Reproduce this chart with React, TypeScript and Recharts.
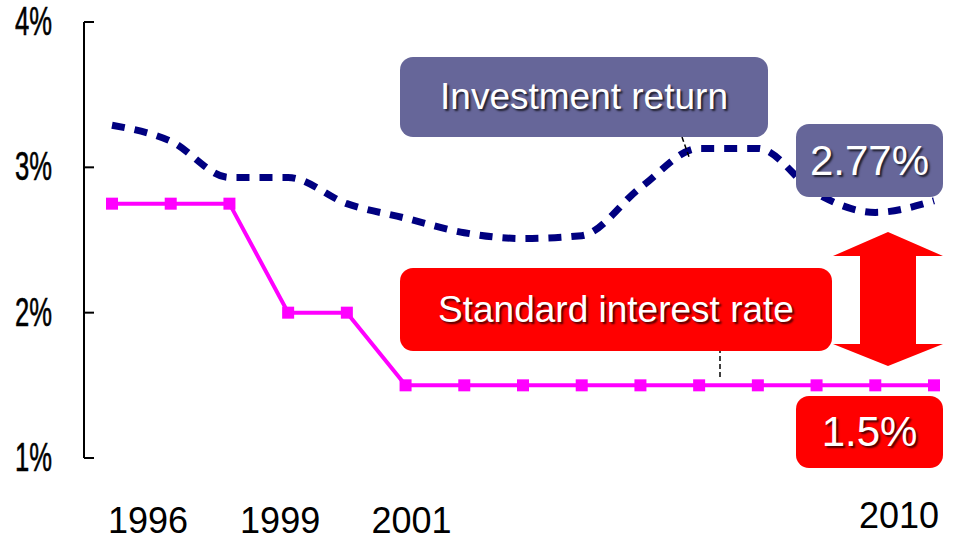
import { LineChart, Line, XAxis, YAxis } from "recharts";

const years = [
  "1996", "1997", "1998", "1999", "2000", "2001", "2002", "2003",
  "2004", "2005", "2006", "2007", "2008", "2009", "2010",
];
const investmentReturn = [
  3.29, 3.18, 2.93, 2.93, 2.75, 2.65, 2.55, 2.51, 2.53, 2.86, 3.13, 3.13, 2.82, 2.69, 2.77,
];
const standardRate = [
  2.75, 2.75, 2.75, 2.0, 2.0, 1.5, 1.5, 1.5, 1.5, 1.5, 1.5, 1.5, 1.5, 1.5, 1.5,
];
const yTicks = [1, 2, 3, 4];
const xLabels = ["1996", "1999", "2001", "2010"];

const data = years.map((year, i) => ({
  year,
  invest: investmentReturn[i],
  standard: standardRate[i],
}));

// the year labels sit a bit off their points in the original slide
const labelShift: Record<string, { dx: number; dy: number }> = {
  "1996": { dx: 36, dy: 0 },
  "1999": { dx: -8, dy: 0 },
  "2001": { dx: 6, dy: 0 },
  "2010": { dx: -35, dy: -5 },
};

const YTick = (props: any) => {
  const { x, y, payload } = props;
  return (
    <g>
      <line x1={x} x2={x + 10} y1={y} y2={y} stroke="#000" strokeWidth={2} />
      <text
        x={0}
        y={0}
        transform={`translate(${x - 32}, ${y + 13}) scale(0.64, 1)`}
        textAnchor="end"
        fontSize={40}
        fontFamily="Liberation Sans, Arial, sans-serif"
        stroke="#000"
        strokeWidth={0.6}
        fill="#000"
      >
        {payload.value}%
      </text>
    </g>
  );
};

const XTick = (props: any) => {
  const { x, y, payload } = props;
  const s = labelShift[payload.value] || { dx: 0, dy: 0 };
  return (
    <text
      x={x + s.dx}
      y={y + 75 + s.dy}
      textAnchor="middle"
      fontSize={36}
      fontFamily="Liberation Sans, Arial, sans-serif"
      fill="#000"
    >
      {payload.value}
    </text>
  );
};

const SquareDot = (props: any) => {
  const { cx, cy, index } = props;
  return <rect key={index} x={cx - 6} y={cy - 6} width={12} height={12} fill="#FF00FF" />;
};

const boxText = {
  position: "absolute" as const,
  display: "flex",
  alignItems: "center",
  justifyContent: "center",
  color: "#fff",
  fontFamily: "Liberation Sans, Arial, sans-serif",
  borderRadius: 13,
  textShadow: "2px 2px 2px rgba(0,0,0,0.7)",
  boxSizing: "border-box" as const,
};

export default function App() {
  return (
    <div style={{ position: "relative", width: 953, height: 542, background: "#fff" }}>
      <style>{`body{margin:0}`}</style>
      <LineChart width={953} height={542} data={data} margin={{ top: 22, right: 0, bottom: 0, left: 0 }}>
        <XAxis
          dataKey="year"
          ticks={xLabels}
          interval={0}
          axisLine={false}
          tickLine={false}
          tickSize={0}
          tickMargin={0}
          height={84}
          padding={{ left: 28, right: 19 }}
          tick={<XTick />}
        />
        <YAxis
          domain={[1, 4]}
          ticks={yTicks}
          width={84}
          axisLine={{ stroke: "#000", strokeWidth: 2 }}
          tickLine={false}
          tickSize={0}
          tickMargin={0}
          tick={<YTick />}
        />
        <Line
          type="monotone"
          dataKey="invest"
          stroke="#000080"
          strokeWidth={7}
          strokeDasharray="13 10"
          dot={false}
          isAnimationActive={false}
        />
        <Line
          type="linear"
          dataKey="standard"
          stroke="#FF00FF"
          strokeWidth={4}
          dot={<SquareDot />}
          isAnimationActive={false}
        />
      </LineChart>

      <svg
        width={953}
        height={542}
        style={{ position: "absolute", left: 0, top: 0, pointerEvents: "none" }}
      >
        <line x1={682} y1={137} x2={689} y2={157} stroke="#000" strokeWidth={1.5} strokeDasharray="5 3" />
        <line x1={720} y1={348} x2={720} y2={380} stroke="#000" strokeWidth={1.5} strokeDasharray="5 3" />
        <polygon
          points="888,232 943,256 916,256 916,344 943,344 888,366 833,344 860,344 860,256 833,256"
          fill="#FF0000"
        />
      </svg>

      <div style={{ ...boxText, left: 400, top: 57, width: 368, height: 80, background: "#666699", fontSize: 37 }}>
        Investment return
      </div>
      <div style={{ ...boxText, left: 796, top: 124, width: 147, height: 73, background: "#666699", fontSize: 42 }}>
        2.77%
      </div>
      <div style={{ ...boxText, left: 400, top: 268, width: 432, height: 83, background: "#FF0000", fontSize: 37 }}>
        Standard interest rate
      </div>
      <div style={{ ...boxText, left: 796, top: 396, width: 147, height: 72, background: "#FF0000", fontSize: 42 }}>
        1.5%
      </div>
    </div>
  );
}
